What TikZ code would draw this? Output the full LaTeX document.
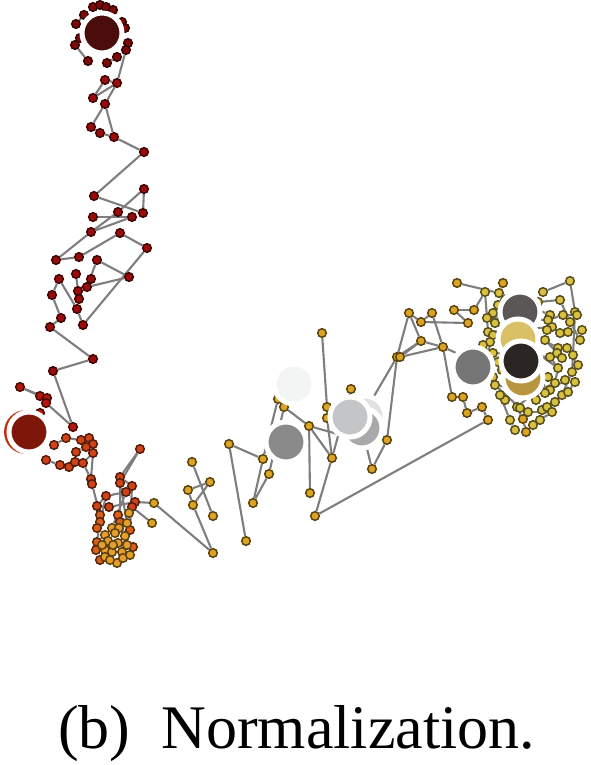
\documentclass[tikz,border=0pt]{standalone}
\usepackage{fontspec}
\setmainfont{Liberation Serif}
\pgfdeclarelayer{edges}
\pgfsetlayers{edges,main}
\definecolor{edgegray}{HTML}{7E7E7E}
\definecolor{redT}{HTML}{7E0A08}
\definecolor{redA}{HTML}{9A0C0C}
\definecolor{redB}{HTML}{B3180C}
\definecolor{orA}{HTML}{CF4416}
\definecolor{orB}{HTML}{DA6018}
\definecolor{orC}{HTML}{E6A02A}
\definecolor{yel}{HTML}{DCA422}
\definecolor{olv}{HTML}{D8C040}
\definecolor{bigA}{HTML}{4A0D0B}
\definecolor{bigB}{HTML}{7D170A}
\definecolor{bigBb}{HTML}{C0300F}
\definecolor{ghostA}{HTML}{F3F5F5}
\definecolor{grayA}{HTML}{8A8A8A}
\definecolor{grayB}{HTML}{E0E2E4}
\definecolor{grayC}{HTML}{A9A9A9}
\definecolor{grayD}{HTML}{C4C5C7}
\definecolor{grayE}{HTML}{767676}
\definecolor{grayF}{HTML}{5C5757}
\definecolor{goldA}{HTML}{D9C066}
\definecolor{goldB}{HTML}{B8953F}
\definecolor{nearblack}{HTML}{2B2624}
\tikzset{
  dotnode/.style={circle, inner sep=0pt, minimum size=8.6pt, line width=1.5pt, draw=#1!40!black, fill=#1},
  bignode/.style={circle, inner sep=0pt, minimum size=40pt, line width=5pt, draw=white, fill=#1},
  link/.style={draw=edgegray, line width=2.1pt},
}
\begin{document}
\begin{tikzpicture}[x=1pt,y=-1pt]
\useasboundingbox (0,0) rectangle (590,765);
% top cluster
\foreach \n/\x/\y in {t1/93/7,t2/100/5,t3/106/7,t4/84/15,t5/76/24,t6/122/22,t7/125/28,t8/128/43,t9/126/50,t10/117/57,t11/107/63,t12/88/61,t13/75/45,t14/80/38,t15/113/10}
  \node[dotnode=redT] (\n) at (\x,\y) {};
% red chain
\foreach \n/\x/\y in {r2/117/83,r3/105/80,r4/93/98,r5/105/104,r6/91/127,r7/100/133,r8/114/137,r9/144/152,r10/94/196,r11/144/189,r12/143/213,r13/118/212,r14/132/217,r15/93/217,r16/91/232,r17/120/233,r18/147/248,r19/56/260,r20/79/257,r21/97/260,r22/59/279,r23/76/274,r24/91/279,r25/87/287,r26/129/277,r27/52/295,r28/78/291,r29/79/299,r31/77/309,r32/61/318,r33/50/327,r34/83/325,r35/93/359,r36/53/371}
  \node[dotnode=redA] (\n) at (\x,\y) {};
\foreach \n/\x/\y in {r37/20/387,r38/40/396,r39/47/398,r40/46/403,r41/40/413,r42/73/427}
  \node[dotnode=redB] (\n) at (\x,\y) {};
% orange
\foreach \n/\x/\y in {o1/66/438,o2/54/445,o3/81/440,o4/89/438,o5/93/444,o6/86/447,o7/76/452,o8/93/453,o9/46/460,o10/60/465,o11/69/467,o12/75/462,o13/83/463,o14/91/479,o15/92/484,o16/140/449,o17/120/477,o18/120/483,o19/132/486,o20/126/492,o21/106/496,o22/97/506,o23/109/507,o24/135/502,o25/132/507}
  \node[dotnode=orA] (\n) at (\x,\y) {};
\foreach \n/\x/\y in {k1/100/515,k2/118/515,k3/100/522,k4/120/522,k6/97/528,k9/130/530,k13/97/542,k17/133/547,k18/96/550,k28/100/560}
  \node[dotnode=orB] (\n) at (\x,\y) {};
\foreach \n/\x/\y in {o26/129/513,k5/127/523,k7/112/528,k8/119/528,k10/115/533,k11/105/535,k12/125/536,k14/108/541,k15/118/543,k16/127/545,k19/105/550,k20/112/552,k21/122/552,k22/102/545,k23/113/545,k24/105/557,k25/117/563,k26/110/560,k27/123/558,k29/130/555}
  \node[dotnode=orC] (\n) at (\x,\y) {};
% yellow chain
\foreach \n/\x/\y in {o27/154/503,o28/152/523,y1/192/462,y2/210/482,y3/188/490,y4/193/505,y5/213/516,y6/213/553,y7/229/444,y8/263/459,y9/269/474,y10/253/503,y11/246/541,y12/278/399,y13/284/407,y14/309/426,y15/332/458,y16/310/493,y17/315/516,y18/322/333,y19/327/407,y20/327/418,y21/351/389,y22/372/469,y23/387/440,y24/397/357,c1/457/283,c2/503/283,c6/409/313,c7/432/313,c8/454/310,c9/474/310,c10/421/322,c11/468/323,c12/421/341,c13/443/347,c14/400/357,c15/452/397,c16/463/397,c17/467/413,c18/482/407,c19/488/420,c20/526/432,c21/523/419}
  \node[dotnode=yel] (\n) at (\x,\y) {};
% right cluster
\foreach \n/\x/\y in {c3/499/293,c4/543/292,c5/570/281,c22/517/407,c23/542/410,c24/547/407,c25/562/395,c26/572/372,c27/573/355,c28/575/312,c29/485/292,c30/493/313,c31/487/318,c32/495/323,c33/577/315,c34/563/315,c35/550/315,c36/548/320,c37/552/327,c38/547/330,c39/560/333,c40/568/332,c41/488/332,c42/493/335,c43/490/342,c44/493/353,c45/487/367,c46/493/377,c47/495/385,c48/558/348,c49/567/348,c50/550/357,c51/557/353,c52/578/365,c53/558/368,c54/565/380,c55/548/377,c56/555/383,c57/550/390,c58/540/385,c59/535/392,c60/545/393,c61/536/400,c63/520/408,
  d1/505/300,d2/530/298,d3/538/302,d4/498/305,d5/560/300,d6/570/322,d7/580/340,d8/575/382,d9/568/392,d10/555/402,d11/533/425,d12/540/420,d13/505/400,d14/500/395,d15/510/420,d16/515/430,d17/483/345,d18/582/330,d19/498/362,d20/502/370,d21/545/340,d22/562/358,d23/552/412,d24/528/412}
  \node[dotnode=olv] (\n) at (\x,\y) {};
\coordinate (h1) at (352,438);
\coordinate (h2) at (360,420);
\coordinate (h3) at (520,340);
% connectors
\begin{pgfonlayer}{edges}
\foreach \a/\b in {t1/t2,t2/t3,t4/t5,t13/t12,t11/t10,t8/t9,t6/t7,t9/r2,r2/r3,r3/r4,r2/r4,r2/r5,r5/r6,r5/r8,r6/r7,r7/r8,r8/r9,r9/r10,r10/r12,r11/r12,r11/r13,r13/r16,r14/r16,r14/r15,r16/r19,r19/r20,r20/r17,r17/r18,r18/r34,r21/r26,r21/r25,r26/r25,r23/r29,r22/r27,r22/r31,r27/r32,r28/r24,r31/r34,r32/r33,r33/r35,r35/r36,r36/r42,r37/r38,r37/r39,r40/r42,
  o2/o1,o1/o3,o3/o4,o4/o5,o5/o6,o6/o7,o9/o10,o10/o11,o11/o12,o12/o13,o13/o8,o8/o5,o7/o12,o13/o14,o14/o15,o8/o14,o16/o18,o16/o17,o17/o19,o19/o20,o20/o21,o21/o22,o22/o23,o23/o24,o24/o27,o25/o28,o26/o25,o15/k1,o17/k4,o18/k5,o19/k9,o20/k7,o21/k3,o22/k6,o27/y6,k1/k6,k2/k9,k4/k12,k3/k13,
  y1/y5,y3/y2,y2/y4,y4/y6,y3/y4,y7/y11,y7/y8,y8/y10,y9/y10,y9/y13,y8/y12,y12/y13,y13/y14,y14/y16,y14/y15,y15/y17,y15/y21,y18/y19,y19/y20,y20/y15,y14/h1,y22/y23,y22/h2,y23/y24,y24/c6,y24/c12,y24/h2,y17/c19,
  c1/c3,c2/c3,c4/c5,c6/c10,c10/c7,c7/c13,c8/c11,c10/c11,c12/c14,c12/c6,c13/c15,c15/c16,c16/c17,c17/c18,c18/c19,c29/c31,c31/c41,c41/c43,c43/c45,c45/c47,c35/c37,c37/c39,c39/c40,c48/c50,c50/c53,c53/c56,c56/c59,c59/c22,c22/c21,c21/c20,c23/c25,c25/c26,c26/c27,c27/c28,c28/c5,c33/c34,c34/c36,c36/c38,c44/c46,c49/c52,c54/c57,c24/c23,c9/c29,c3/c35,c30/c48,c32/c53,c42/c56,c44/c50,c47/c59,c41/c37,c31/c36,c14/c13,c12/c13,c9/c8,c47/c63,c63/c22,c45/h3,c13/c45,
  d1/d2,d2/d3,d4/d1,d5/d6,d6/d7,d7/d18,d8/d9,d9/d10,d11/d12,d13/d14,d15/d16,d17/d19,d19/d20,d21/d22,d23/d24,d10/d23,d3/d5,d14/d15,d12/d23}
  \draw[link] (\a) -- (\b);
\end{pgfonlayer}
% large markers
\node[bignode=bigA] (B1) at (102,33) {};
\node[circle, inner sep=0pt, minimum size=44pt, fill=bigBb] (B2b) at (26,432) {};
\node[bignode=bigB] (B2) at (29,432) {};
\node[bignode=ghostA] (G1) at (294,384) {};
\node[bignode=grayA] (B3) at (286,442) {};
\node[bignode=grayB] (B4c) at (365,416) {};
\node[bignode=grayC] (B4b) at (362,428) {};
\node[bignode=grayD] (B4) at (350,417) {};
\node[bignode=grayE] (B5) at (473,367) {};
\node[bignode=grayF] (B6) at (520,312) {};
\node[bignode=goldA] (B7) at (518,339) {};
\node[bignode=goldB] (B8) at (523,378) {};
\node[bignode=nearblack] (B9) at (521,361) {};
% caption
\node[anchor=base west, inner sep=0pt, font=\fontsize{62}{70}\selectfont] (cap) at (58,748) {(b)\hspace{0.5em}Normalization.};
\end{tikzpicture}
\end{document}
